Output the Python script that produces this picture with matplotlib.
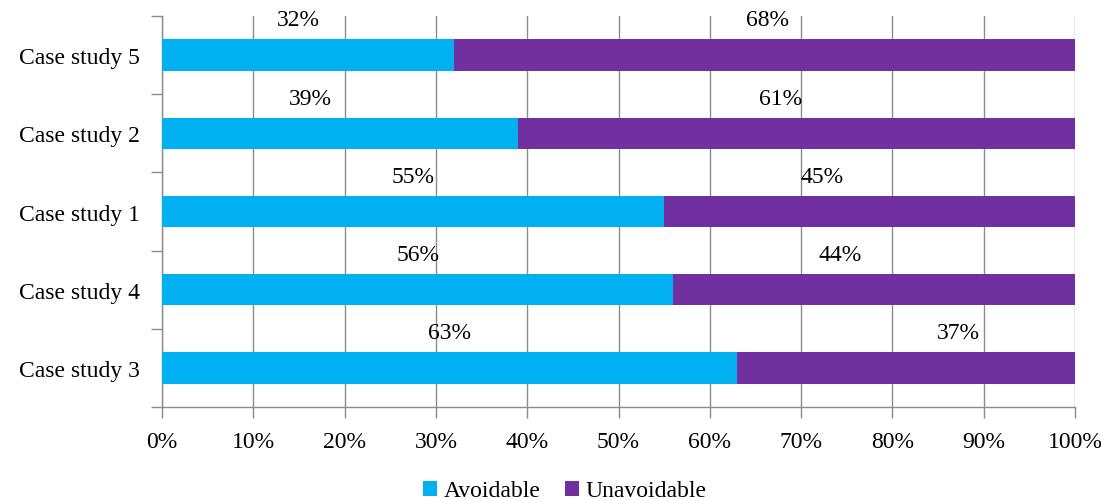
import matplotlib.pyplot as plt
import numpy as np

# data, top row first
cases = ['Case study 5', 'Case study 2', 'Case study 1', 'Case study 4', 'Case study 3']
avoidable = [32, 39, 55, 56, 63]
unavoidable = [68, 61, 45, 44, 37]
# manual label shifts (percentage points) as in the original
avoid_shift = [-1.1, -3.2, 0.0, 0.0, 0.0]
unavoid_shift = [0.3, -1.8, -5.2, -3.7, 5.7]

blue = '#00B0F0'
purple = '#7030A0'
grid_col = '#8c8c8c'
fs = 17

plt.rcParams['font.family'] = ['Liberation Serif', 'DejaVu Serif']

fig = plt.figure(figsize=(11.01, 5.02), dpi=100)
ax = fig.add_axes([162 / 1101, 1 - 408 / 502, 913 / 1101, 391 / 502])

y = np.arange(len(cases))
ax.barh(y, avoidable, height=0.4, color=blue, label='Avoidable', zorder=3)
ax.barh(y, unavoidable, left=avoidable, height=0.4, color=purple, label='Unavoidable', zorder=3)

for i in range(len(cases)):
    ax.text(avoidable[i] / 2 + avoid_shift[i], i - 0.45, f'{avoidable[i]}%',
            ha='center', va='center', fontsize=fs)
    ax.text(avoidable[i] + unavoidable[i] / 2 + unavoid_shift[i], i - 0.45,
            f'{unavoidable[i]}%', ha='center', va='center', fontsize=fs)

ax.set_xlim(0, 100)
ax.set_ylim(len(cases) - 0.5, -0.5)
ax.set_xticks(np.arange(0, 101, 10))
ax.set_xticklabels([f'{v}%' for v in range(0, 101, 10)], fontsize=fs)
ax.set_yticks(y)
ax.set_yticklabels(cases, fontsize=fs)
ax.set_yticks(np.arange(-0.5, len(cases), 1), minor=True)
ax.tick_params(axis='y', which='major', length=0, pad=16)
ax.tick_params(axis='y', which='minor', length=8, color=grid_col, width=1)
ax.tick_params(axis='x', length=8, color=grid_col, width=1, pad=9)

ax.grid(axis='x', color=grid_col, linewidth=1, zorder=0)
for s in ['top', 'right']:
    ax.spines[s].set_visible(False)
for s in ['left', 'bottom']:
    ax.spines[s].set_color(grid_col)
    ax.spines[s].set_linewidth(1)

fig.legend(loc='center', bbox_to_anchor=(0.513, 1 - 492 / 502), ncol=2, frameon=False,
           fontsize=fs, handlelength=0.6, handleheight=0.6, handletextpad=0.3,
           columnspacing=1.0)

fig.savefig('out.png', dpi=100)
